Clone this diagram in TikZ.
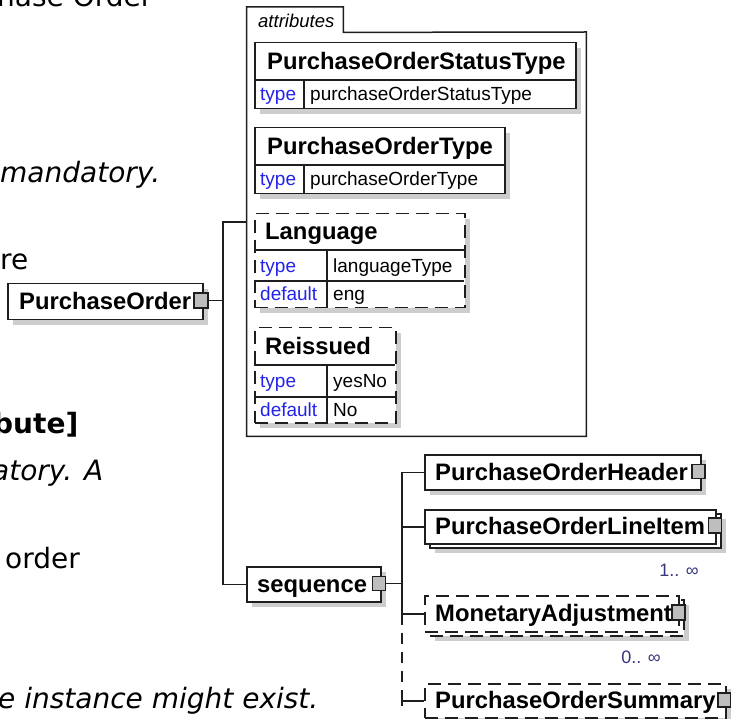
\documentclass[tikz,border=0pt]{standalone}
\usepackage{fontspec}
\setmainfont{Liberation Sans}
\newfontfamily\pagefont{DejaVu Sans}
\usetikzlibrary{shadows}
\definecolor{ln}{RGB}{30,30,30}
\definecolor{shd}{RGB}{205,205,205}
\definecolor{sqf}{RGB}{190,190,190}
\definecolor{lbl}{RGB}{35,35,235}
\definecolor{mult}{RGB}{55,55,125}
\begin{document}
\begin{tikzpicture}[x=1pt,y=-1pt,
  box/.style={draw=ln, line width=1.5pt, fill=white, inner sep=0pt, anchor=north west},
  shad/.style={general shadow={fill=shd, shadow xshift=5pt, shadow yshift=-5pt}},
  dsh/.style={dash pattern=on 13pt off 7pt},
  sq/.style={draw=ln, line width=1.3pt, fill=sqf, inner sep=0pt, minimum width=13pt, minimum height=14pt},
  ename/.style={anchor=base west, inner sep=0pt, font=\fontsize{23.8}{24}\selectfont\bfseries},
  aval/.style={anchor=base west, inner sep=0pt, font=\fontsize{19}{19}\selectfont},
  alab/.style={aval, text=lbl},
  conn/.style={draw=ln, line width=1.5pt},
  divl/.style={draw=ln, line width=1.5pt},
  ptext/.style={anchor=base west, inner sep=0pt, font=\pagefont\fontsize{28}{28}\selectfont},
  mul/.style={inner sep=0pt, text=mult, font=\fontsize{18}{18}\selectfont}
]
\useasboundingbox (0,0) rectangle (731,719);
\clip (0,0) rectangle (731,719);
\fill[white] (0,0) rectangle (731,719);

% ---- page text fragments ----
\node[ptext] (t1) at (-3,7) {hase Order};
\node[ptext, font=\pagefont\fontsize{28}{28}\selectfont\itshape] (t2) at (0,183) {mandatory.};
\node[ptext] (t3) at (0,270) {re};
\node[ptext, font=\pagefont\fontsize{28}{28}\selectfont\bfseries] (t4) at (-7,433) {bute]};
\node[ptext, font=\pagefont\fontsize{28}{28}\selectfont\itshape] (t5) at (-8,480) {atory. A};
\node[ptext] (t6) at (5,568) {order};
\node[ptext, font=\pagefont\fontsize{28}{28}\selectfont\itshape] (t7) at (-2,708) {e instance might exist.};

% ---- attributes container ----
\node[inner sep=0pt, anchor=north west, minimum width=96.5pt, minimum height=25pt] (attrtab) at (246.5,7) {};
\node[inner sep=0pt, anchor=north west, minimum width=339.5pt, minimum height=404pt] (attrs) at (246.5,32) {};
\draw[conn] (attrtab.south west) -- (attrtab.north west) -- (attrtab.north east) -- (attrtab.south east)
  -- (attrs.north east) -- (attrs.south east) -- (attrs.south west) -- cycle;
\node[anchor=base west, inner sep=0pt, font=\fontsize{18.5}{18.5}\selectfont\itshape] (attrtxt) at (258,28) {attributes};

% PurchaseOrderStatusType
\node[box, shad, minimum width=321pt, minimum height=66pt] (ast) at (254,42) {};
\draw[divl] (254,80) -- (575,80);
\draw[divl] (304,80) -- (304,108);
\node[ename] (astn) at (267,69.5) {PurchaseOrderStatusType};
\node[alab] (astl) at (260,100.8) {type};
\node[aval] (astv) at (310,100.8) {purchaseOrderStatusType};

% PurchaseOrderType
\node[box, shad, minimum width=250pt, minimum height=66pt] (apt) at (254,127) {};
\draw[divl] (254,165) -- (504,165);
\draw[divl] (304,165) -- (304,193);
\node[ename] (aptn) at (267,154.6) {PurchaseOrderType};
\node[alab] (aptl) at (260,185.8) {type};
\node[aval] (aptv) at (310,185.8) {purchaseOrderType};

% Language
\node[box, shad, dsh, minimum width=210pt, minimum height=94pt] (alg) at (254,213) {};
\draw[divl] (254,250) -- (464,250);
\draw[divl] (254,281) -- (464,281);
\draw[divl] (327,250) -- (327,307);
\node[ename] (algn) at (265,240) {Language};
\node[alab] (algl1) at (260,272.3) {type};
\node[aval] (algv1) at (333,272.3) {languageType};
\node[alab] (algl2) at (260,300.8) {default};
\node[aval] (algv2) at (333,300.8) {eng};

% Reissued
\node[box, shad, dsh, minimum width=141pt, minimum height=95pt] (ari) at (254,327) {};
\draw[divl] (254,365) -- (395,365);
\draw[divl] (254,397) -- (395,397);
\draw[divl] (327,365) -- (327,422);
\node[ename] (arin) at (265,354.6) {Reissued};
\node[alab] (aril1) at (260,387.8) {type};
\node[aval] (ariv1) at (333,387.8) {yesNo};
\node[alab] (aril2) at (260,416.3) {default};
\node[aval] (ariv2) at (333,416.3) {No};

% ---- PurchaseOrder ----
\node[box, shad, minimum width=195pt, minimum height=36pt] (po) at (7,283) {};
\node[ename] (pon) at (19,309.6) {PurchaseOrder};
\node[sq, minimum width=14pt, minimum height=15pt] (posq) at (201,300.5) {};

% ---- sequence ----
\node[box, shad, minimum width=134pt, minimum height=35pt] (seq) at (246,566) {};
\node[ename] (seqn) at (257,592) {sequence};
\node[sq] (seqsq) at (379,583.5) {};

% ---- children ----
\node[box, shad, minimum width=276pt, minimum height=35pt] (poh) at (424,454) {};
\node[ename] (pohn) at (435,480) {PurchaseOrderHeader};
\node[sq] (pohsq) at (698.5,471.5) {};

\node[box, shad, minimum width=291pt, minimum height=34pt] (polib) at (429,513) {};
\node[box, minimum width=291pt, minimum height=34pt] (poli) at (424,509) {};
\node[ename] (polin) at (435,534.6) {PurchaseOrderLineItem};
\node[sq, minimum height=15pt] (polisq) at (715,525.5) {};
\node[mul] (m1) at (679,570) {1.. ∞};

\node[box, shad, dsh, minimum width=254pt, minimum height=36pt] (mab) at (429,599) {};
\node[box, dsh, minimum width=254pt, minimum height=36pt] (ma) at (424,595) {};
\node[ename] (man) at (435,621.6) {MonetaryAdjustment};
\node[sq, minimum height=15pt] (masq) at (678.5,612.5) {};
\node[mul] (m2) at (641,657) {0.. ∞};

\node[box, shad, dsh, minimum width=301pt, minimum height=34pt] (pos) at (424,683) {};
\node[ename] (posn) at (435,708.6) {PurchaseOrderSummary};
\node[sq] (possq) at (724.5,700) {};

% ---- connectors ----
\coordinate (j1) at (223,300.5);
\coordinate (attin) at (246.5,222);
\draw[conn] (posq.east) -- (j1);
\draw[conn] (attin) -| (j1) |- (seq.west);

\coordinate (j2) at (402,583.5);
\draw[conn] (seqsq.east) -- (j2);
\draw[conn] (poh.west) -| (j2);
\draw[conn] (poli.west) -- (poli.west -| j2);
\draw[conn] (j2) |- (ma.west);
\draw[conn, dash pattern=on 11pt off 8pt] (ma.west -| j2) -- ([yshift=-5pt]pos.west -| j2);
\draw[conn] ([yshift=-5pt]pos.west -| j2) |- (pos.west);
\end{tikzpicture}
\end{document}
